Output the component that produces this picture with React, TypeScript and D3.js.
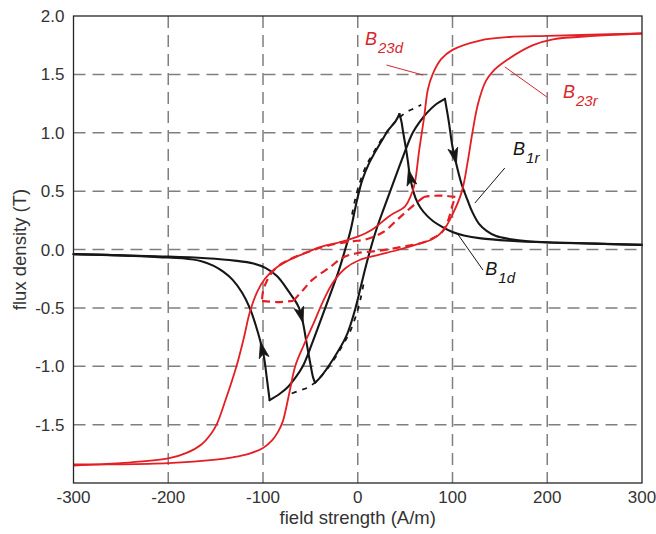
import React from "react";
import * as d3 from "d3";

// ---- axes ----
const xTicks = [-300, -200, -100, 0, 100, 200, 300];
const xTickLabels = ["-300", "-200", "-100", "0", "100", "200", "300"];
const yTicks = [-1.5, -1, -0.5, 0, 0.5, 1, 1.5, 2];
const yTickLabels = ["-1.5", "-1.0", "-0.5", "0.0", "0.5", "1.0", "1.5", "2.0"];

// ---- limb 2/3 flux, descending branch (H in A/m, B in T) ----
const b23dH = [-300, -250, -200, -180, -165, -155, -149, -140, -128, -120, -114, -106, -98, -85, -70, -55, -40, -20, 0, 15, 34, 50, 56, 60, 65, 70, 74, 79, 88, 100, 129, 160, 200, 300];
const b23dB = [-1.85, -1.83, -1.79, -1.74, -1.67, -1.58, -1.5, -1.3, -1.0, -0.75, -0.54, -0.36, -0.25, -0.15, -0.08, -0.03, 0.02, 0.06, 0.11, 0.17, 0.29, 0.37, 0.46, 0.56, 0.86, 1.13, 1.37, 1.5, 1.63, 1.71, 1.79, 1.82, 1.83, 1.85];

// ---- limb 2/3 flux, rising branch ----
const b23rH = [-300, -250, -200, -150, -132, -115, -100, -90, -84, -79, -72, -66, -57, -47, -37, -26, -13, 2, 20, 44, 65, 79, 90, 100, 110, 116, 121, 127, 135, 142, 157, 185, 206, 250, 300];
const b23rB = [-1.84, -1.84, -1.83, -1.8, -1.78, -1.75, -1.7, -1.63, -1.56, -1.47, -1.22, -1.0, -0.82, -0.64, -0.45, -0.28, -0.16, -0.09, -0.05, 0.0, 0.05, 0.09, 0.16, 0.3, 0.5, 0.75, 1.0, 1.25, 1.44, 1.52, 1.62, 1.75, 1.8, 1.83, 1.85];

// ---- limb 2/3 minor loop (dashed), split at its corners ----
const minorLowFlatH = [-101, -85, -68];
const minorLowFlatB = [-0.44, -0.45, -0.44];
const minorUpH = [-68, -58, -48, -29, -16, 0, 23, 45, 69, 80, 89, 95, 100, 103];
const minorUpB = [-0.44, -0.35, -0.26, -0.15, -0.07, -0.03, -0.01, 0.02, 0.06, 0.1, 0.15, 0.24, 0.38, 0.45];
const minorTopFlatH = [103, 92, 80, 70];
const minorTopFlatB = [0.45, 0.46, 0.46, 0.45];
const minorDownH = [70, 62, 45, 27, 10, -5, -22, -45, -65, -80, -90, -96, -100, -101];
const minorDownB = [0.45, 0.4, 0.28, 0.15, 0.09, 0.07, 0.05, 0.0, -0.06, -0.12, -0.19, -0.27, -0.36, -0.44];

// ---- limb 1 flux, B1r: left tail -> trough -> rise -> peak -> right tail ----
const b1rTailH = [-300, -250, -200, -160, -130, -110, -97, -85, -72, -66, -62, -58, -54, -50, -47, -45];
const b1rTailB = [-0.04, -0.05, -0.06, -0.075, -0.095, -0.12, -0.16, -0.23, -0.37, -0.44, -0.5, -0.62, -0.8, -0.98, -1.1, -1.14];
const b1rRiseH = [-45, -40, -26, -12, -3, 2, 8, 14, 20, 27, 37, 48, 58, 66, 73, 82, 92];
const b1rRiseB = [-1.14, -1.1, -0.94, -0.74, -0.52, -0.36, -0.16, 0.02, 0.18, 0.34, 0.56, 0.8, 1.0, 1.1, 1.17, 1.24, 1.29];
const b1rFallH = [92, 96, 100, 105, 110, 116, 121, 128, 136, 146, 160, 180, 210, 250, 300];
const b1rFallB = [1.29, 1.1, 0.88, 0.7, 0.55, 0.42, 0.32, 0.22, 0.16, 0.115, 0.09, 0.07, 0.06, 0.05, 0.04];

// ---- limb 1 flux, B1d: right tail -> peak -> fall -> trough -> left tail ----
const b1dTailH = [300, 250, 200, 160, 130, 112, 100, 90, 80, 73, 66, 61, 58, 55, 53, 51, 48, 46, 44];
const b1dTailB = [0.04, 0.05, 0.06, 0.075, 0.095, 0.12, 0.15, 0.19, 0.24, 0.29, 0.36, 0.44, 0.52, 0.63, 0.75, 0.86, 1.0, 1.1, 1.16];
const b1dFallH = [44, 40, 32, 26, 18, 12, 5, 0, -3, -8, -14, -20, -27, -37, -48, -58, -66, -74, -83, -93];
const b1dFallB = [1.16, 1.1, 1.02, 0.94, 0.83, 0.74, 0.6, 0.45, 0.34, 0.15, -0.02, -0.18, -0.34, -0.56, -0.8, -1.0, -1.1, -1.18, -1.24, -1.29];
const b1dRiseH = [-93, -96, -99, -103, -108, -114, -122, -132, -142, -152, -165, -185, -210, -250, -300];
const b1dRiseB = [-1.29, -1.1, -0.92, -0.78, -0.64, -0.5, -0.37, -0.26, -0.19, -0.14, -0.1, -0.075, -0.065, -0.05, -0.04];

// ---- limb 1 reference curve (dashed) ----
const refUpH = [-6, -3, 2, 9, 16, 24, 31, 38, 44, 52, 60, 67];
const refUpB = [0.3, 0.42, 0.57, 0.72, 0.82, 0.93, 1.01, 1.08, 1.13, 1.18, 1.21, 1.24];
const refDownH = [6, 3, -2, -9, -16, -24, -31, -38, -44, -52, -62, -72];
const refDownB = [-0.3, -0.42, -0.57, -0.72, -0.82, -0.93, -1.01, -1.08, -1.13, -1.18, -1.21, -1.24];

// ---- direction arrows on the limb 1 curves ----
const arrowCurves = ["B1r", "B1d", "B1r", "B1d"];
const arrowH = [102, 56, -59, -101];
const arrowB = [0.8, 0.62, -0.56, -0.86];

// ---- curve labels with leader lines ----
const labelSub = ["23d", "23r", "1r", "1d"];
const labelH = [7.6, 216.6, 163.9, 134.6];
const labelB = [1.752, 1.298, 0.809, -0.218];
const labelRed = [true, true, false, false];
const leaderH0 = [30.3, 155.2, 155.2, 104.7];
const leaderB0 = [1.58, 1.564, 0.698, 0.141];
const leaderH1 = [69, 199.5, 123.6, 132.2];
const leaderB1 = [1.494, 1.307, 0.398, -0.176];

const W = 656;
const Ht = 534;
const FONT = "'Liberation Sans', Arial, Helvetica, sans-serif";
const RED = "#e31e24";
const RED_TEXT = "#d8262b";
const BLACK = "#161616";

const zip = (hs: number[], bs: number[]): [number, number][] => hs.map((h, i) => [h, bs[i]]);

export default function App() {
  const x = d3.scaleLinear().domain([-300, 300]).range([73.5, 642]);
  const y = d3.scaleLinear().domain([-2, 2]).range([483, 16]);
  const [x0, x1] = x.range();
  const [yb, yt] = y.range();

  const line = d3
    .line<[number, number]>()
    .x((d) => x(d[0]))
    .y((d) => y(d[1]))
    .curve(d3.curveCatmullRom.alpha(0.5));

  const b1rPieces = [zip(b1rTailH, b1rTailB), zip(b1rRiseH, b1rRiseB), zip(b1rFallH, b1rFallB)];
  const b1dPieces = [zip(b1dTailH, b1dTailB), zip(b1dFallH, b1dFallB), zip(b1dRiseH, b1dRiseB)];
  const minorPieces = [
    zip(minorLowFlatH, minorLowFlatB),
    zip(minorUpH, minorUpB),
    zip(minorTopFlatH, minorTopFlatB),
    zip(minorDownH, minorDownB),
  ];
  const curves: Record<string, [number, number][]> = {
    B1r: b1rPieces.flat(),
    B1d: b1dPieces.flat(),
  };

  const arrowPath = (name: string, h: number, b: number) => {
    const pts = curves[name].map(([hh, bb]) => [x(hh), y(bb)]);
    const px = x(h);
    const py = y(b);
    let best = { d: Infinity, cx: 0, cy: 0, a: 0 };
    for (let i = 0; i < pts.length - 1; i++) {
      const [ax, ay] = pts[i];
      const [bx, by] = pts[i + 1];
      const dx = bx - ax;
      const dy = by - ay;
      const len2 = dx * dx + dy * dy;
      if (len2 === 0) continue;
      const t = Math.max(0, Math.min(1, ((px - ax) * dx + (py - ay) * dy) / len2));
      const cx = ax + t * dx;
      const cy = ay + t * dy;
      const d = (cx - px) ** 2 + (cy - py) ** 2;
      if (d < best.d) best = { d, cx, cy, a: Math.atan2(dy, dx) };
    }
    const L = 16;
    const Wd = 10;
    const shape = [
      [L / 2, 0],
      [-L / 2, Wd / 2],
      [-L / 4, 0],
      [-L / 2, -Wd / 2],
    ];
    const c = Math.cos(best.a);
    const s = Math.sin(best.a);
    return (
      "M" +
      shape.map(([sx, sy]) => `${best.cx + sx * c - sy * s},${best.cy + sx * s + sy * c}`).join("L") +
      "Z"
    );
  };

  return (
    <svg
      width={W}
      height={Ht}
      viewBox={`0 0 ${W} ${Ht}`}
      style={{ position: "absolute", left: 0, top: 0, background: "#fff", display: "block" }}
      fontFamily={FONT}
    >
      <rect x={0} y={0} width={W} height={Ht} fill="#fff" />

      {/* grid */}
      <g stroke="#7f7f7f" strokeWidth={1.5} strokeDasharray="12,7" fill="none">
        {xTicks
          .filter((t) => t > -300 && t < 300)
          .map((t) => (
            <line key={"gx" + t} x1={x(t)} x2={x(t)} y1={yt} y2={yb} />
          ))}
        {yTicks
          .filter((t) => t < 2)
          .map((t) => (
            <line key={"gy" + t} x1={x0} x2={x1} y1={y(t)} y2={y(t)} />
          ))}
      </g>

      {/* limb 1 curves */}
      <g stroke={BLACK} strokeWidth={2.1} fill="none" strokeLinejoin="round" strokeLinecap="round">
        {b1rPieces.map((p, i) => (
          <path key={"r" + i} d={line(p) || ""} />
        ))}
        {b1dPieces.map((p, i) => (
          <path key={"d" + i} d={line(p) || ""} />
        ))}
      </g>
      <g stroke={BLACK} strokeWidth={1.8} fill="none" strokeDasharray="5,6">
        <path d={line(zip(refUpH, refUpB)) || ""} />
        <path d={line(zip(refDownH, refDownB)) || ""} />
      </g>

      {/* limb 2/3 curves */}
      <g stroke={RED} strokeWidth={1.8} fill="none">
        <path d={line(zip(b23dH, b23dB)) || ""} />
        <path d={line(zip(b23rH, b23rB)) || ""} />
      </g>
      <g stroke={RED} strokeWidth={2.2} fill="none" strokeDasharray="8,5">
        {minorPieces.map((p, i) => (
          <path key={"m" + i} d={line(p) || ""} />
        ))}
      </g>

      {/* arrows */}
      <g fill={BLACK} stroke={BLACK} strokeWidth={0.8} strokeLinejoin="miter">
        {arrowCurves.map((c, i) => (
          <path key={"a" + i} d={arrowPath(c, arrowH[i], arrowB[i])} />
        ))}
      </g>

      {/* axes box */}
      <rect x={x0} y={yt} width={x1 - x0} height={yb - yt} fill="none" stroke="#262626" strokeWidth={1.3} />

      {/* tick labels */}
      <g fill="#333" fontSize={17}>
        {xTicks.map((t, i) => (
          <text key={"xt" + t} x={x(t)} y={yb + 20} textAnchor="middle">
            {xTickLabels[i]}
          </text>
        ))}
        {yTicks.map((t, i) => (
          <text key={"yt" + t} x={x0 - 9} y={y(t) + 6} textAnchor="end">
            {yTickLabels[i]}
          </text>
        ))}
      </g>

      {/* axis titles */}
      <text x={(x0 + x1) / 2} y={524} textAnchor="middle" fontSize={18.5} fill="#333">
        field strength (A/m)
      </text>
      <text
        transform={`translate(26,${(yt + yb) / 2}) rotate(-90)`}
        textAnchor="middle"
        fontSize={18.5}
        fill="#333"
      >
        flux density (T)
      </text>

      {/* curve labels */}
      {labelSub.map((sub, i) => (
        <g key={"lb" + i}>
          <line
            x1={x(leaderH0[i])}
            y1={y(leaderB0[i])}
            x2={x(leaderH1[i])}
            y2={y(leaderB1[i])}
            stroke={labelRed[i] ? RED_TEXT : BLACK}
            strokeWidth={1}
          />
          <text
            x={x(labelH[i])}
            y={y(labelB[i])}
            fill={labelRed[i] ? RED_TEXT : BLACK}
            fontStyle="italic"
            fontSize={18}
          >
            B
            <tspan dx={1} dy={8} fontSize={15}>
              {sub}
            </tspan>
          </text>
        </g>
      ))}
    </svg>
  );
}
